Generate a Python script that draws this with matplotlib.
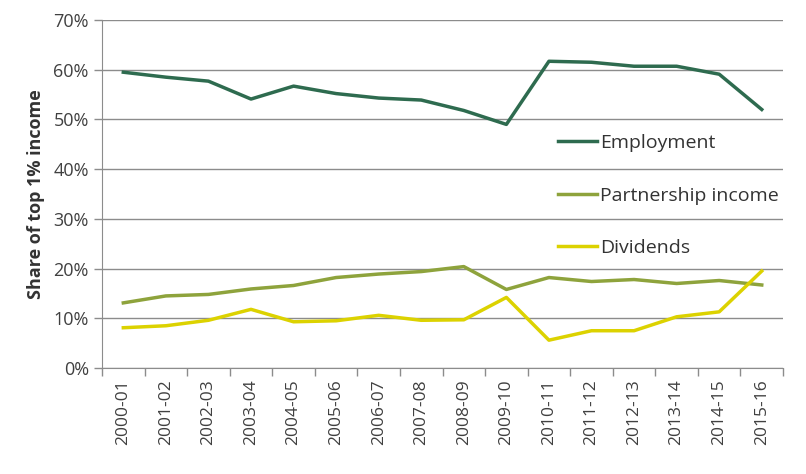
import matplotlib.pyplot as plt
from matplotlib.ticker import FuncFormatter, FixedLocator
import numpy as np

plt.rcParams['font.family'] = ['Open Sans', 'DejaVu Sans']

years = ['2000-01', '2001-02', '2002-03', '2003-04', '2004-05', '2005-06', '2006-07', '2007-08',
         '2008-09', '2009-10', '2010-11', '2011-12', '2012-13', '2013-14', '2014-15', '2015-16']
employment = [59.5, 58.5, 57.7, 54.1, 56.7, 55.2, 54.3, 53.9, 51.8, 49.0, 61.7, 61.5, 60.7, 60.7, 59.1, 52.0]
partnership = [13.1, 14.5, 14.8, 15.9, 16.6, 18.2, 18.9, 19.4, 20.4, 15.8, 18.2, 17.4, 17.8, 17.0, 17.6, 16.7]
dividends = [8.1, 8.5, 9.6, 11.8, 9.3, 9.5, 10.6, 9.6, 9.7, 14.2, 5.6, 7.5, 7.5, 10.3, 11.3, 19.5]

fig = plt.figure(figsize=(8.06, 4.74), dpi=100)
ax = fig.add_axes([0.1266, 0.2236, 0.9715 - 0.1266, 0.9578 - 0.2236])

x = np.arange(len(years))
ax.plot(x, employment, color='#2e6b4f', lw=2.5, label='Employment')
ax.plot(x, partnership, color='#8ea33c', lw=2.5, label='Partnership income')
ax.plot(x, dividends, color='#dcd200', lw=2.5, label='Dividends')

ax.set_xlim(-0.5, len(years) - 0.5)
ax.set_ylim(0, 70)
ax.set_yticks(np.arange(0, 71, 10))
ax.yaxis.set_major_formatter(FuncFormatter(lambda v, p: '%d%%' % v))
ax.grid(axis='y', color='#8c8c8c', lw=1)
ax.set_axisbelow(True)

ax.set_xticks(x)
ax.set_xticklabels(years, rotation=90)
ax.xaxis.set_minor_locator(FixedLocator(np.arange(-0.5, len(years), 1)))
ax.tick_params(axis='x', which='major', length=0, pad=8, labelsize=12.5, labelcolor='#404040')
ax.tick_params(axis='x', which='minor', length=6, color='#8c8c8c', width=1)
ax.tick_params(axis='y', length=6, color='#8c8c8c', width=1, labelsize=13, labelcolor='#404040')

for s in ['top', 'right']:
    ax.spines[s].set_visible(False)
for s in ['left', 'bottom']:
    ax.spines[s].set_color('#8c8c8c')

ax.set_ylabel('Share of top 1% income', fontsize=13, fontweight='bold', color='#333333', labelpad=6)

ax.legend(loc='upper left', bbox_to_anchor=(0.644, 0.723), frameon=False, fontsize=14,
          labelspacing=1.78, handlelength=2.0, handletextpad=0.15, labelcolor='#333333')

plt.savefig('out.png', dpi=100)
